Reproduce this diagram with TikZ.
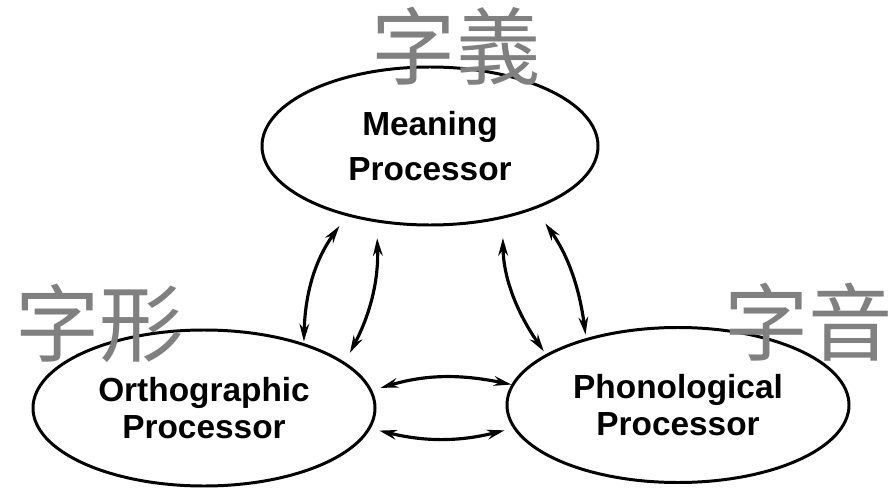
\documentclass[tikz,border=0pt]{standalone}
\usepackage{fontspec}
\setmainfont{Liberation Sans}
\newfontfamily\cjk{Noto Sans CJK TC}
\usetikzlibrary{shapes.geometric,arrows.meta}

\definecolor{labelgray}{gray}{0.5}

\begin{document}
\begin{tikzpicture}[
    proc/.style={draw, ellipse, line width=1.7pt, inner sep=0pt,
      minimum width=6.84cm, minimum height=3.12cm, align=center,
      font=\bfseries\fontsize{19}{21.5}\selectfont},
    link/.style={{Stealth[length=10pt,width=5.5pt]}-{Stealth[length=10pt,width=5.5pt]},
      line width=1.8pt},
    tag/.style={text=labelgray, inner sep=0pt,
      font=\cjk\fontsize{48}{48}\selectfont}
  ]
    \useasboundingbox (0,0) rectangle (17.84,-9.76);

    % the three processors
    \node [proc, minimum width=6.72cm, minimum height=3.16cm,
      font=\bfseries\fontsize{19}{25.6}\selectfont]
      (meaning) at (8.60,-2.92) {Meaning\\Processor};
    \node [proc] (ortho) at (4.08,-8.16) {Orthographic\\Processor};
    \node [proc, minimum height=3.10cm] (phono) at (13.56,-8.10) {Phonological\\Processor};

    % meaning <-> orthographic
    \draw [link, shorten <=7pt, shorten >=1pt] (meaning.220) to [bend right=17] (ortho.33.9);
    \draw [link, shorten <=9pt, shorten >=6pt] (meaning.235.8) to [bend left=15] (ortho.18.4);

    % meaning <-> phonological
    \draw [link, shorten <=11pt, shorten >=2pt] (meaning.315.4) to [bend right=17] (phono.159.5);
    \draw [link, shorten <=10pt, shorten >=2pt] (meaning.329) to [bend left=14] (phono.144);

    % orthographic <-> phonological
    \draw [link, shorten <=5pt, shorten >=0pt] (ortho.6.9) to [bend left=14] (phono.173.8);
    \draw [link, shorten <=5pt, shorten >=5pt] (ortho.-7.6) to [bend right=14] (phono.188.8);

    % chinese glosses
    \node [tag] (gloss-meaning) at (9.12,-0.92) {字義};
    \node [tag] (gloss-ortho) at (2.00,-6.46) {字形};
    \node [tag] (gloss-phono) at (16.17,-6.44) {字音};
  \end{tikzpicture}
\end{document}
